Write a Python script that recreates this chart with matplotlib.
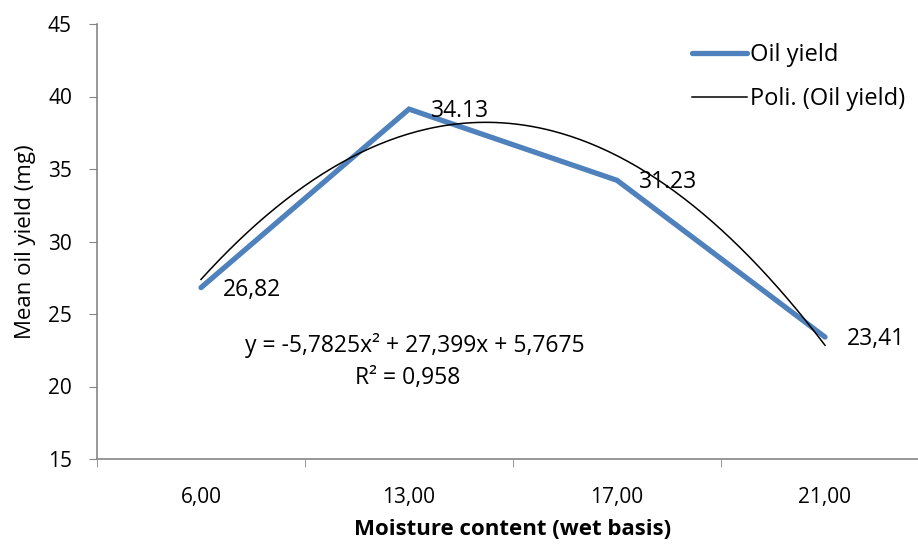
import numpy as np
import matplotlib
matplotlib.use('Agg')
import matplotlib.pyplot as plt

plt.rcParams['font.family'] = ['Open Sans', 'DejaVu Sans']

# Данные
categories = ['6,00', '13,00', '17,00', '21,00']
oil_yield = [26.82, 39.13, 34.22, 23.41]
point_labels = ['26,82', '34.13', '31.23', '23,41']
equation = 'y = -5,7825x² + 27,399x + 5,7675'
r_squared = 'R² = 0,958'

x = np.arange(1, len(categories) + 1)

# полиномиальная линия тренда 2-й степени, как в Excel
coef = np.polyfit(x, oil_yield, 2)
xs = np.linspace(x[0], x[-1], 200)
ys = np.polyval(coef, xs)

fig = plt.figure(figsize=(9.18, 5.48), dpi=100)
ax = fig.add_axes([97 / 918, 1 - 459 / 548, (929 - 97) / 918, (459 - 24) / 548])

blue = '#4F81BD'
ax.plot(x, oil_yield, color=blue, lw=3.8, solid_capstyle='round',
        solid_joinstyle='miter', label='Oil yield')
ax.plot(xs, ys, color='black', lw=1.1, label='Poli. (Oil yield)')

for xi, yi, lab in zip(x, oil_yield, point_labels):
    ax.annotate(lab, (xi, yi), xytext=(16, -1.5), textcoords='offset points',
                ha='left', va='center', fontsize=16.5)

ax.set_xlim(0.5, 4.5)
ax.set_ylim(15, 45)
ax.set_yticks(range(15, 46, 5))
ax.set_xticks(x)
ax.set_xticklabels(categories)
ax.set_xticks(np.arange(0.5, 5, 1), minor=True)
ax.tick_params(axis='x', which='major', length=0, pad=20, labelsize=15)
ax.tick_params(axis='x', which='minor', length=6, color='#868686')
ax.tick_params(axis='y', length=6, color='#868686', labelsize=15, pad=12)

for s in ['top', 'right']:
    ax.spines[s].set_visible(False)
for s in ['left', 'bottom']:
    ax.spines[s].set_color('#868686')
    ax.spines[s].set_linewidth(1.2)

ax.text(2.026, 22.8, equation, ha='center', va='center', fontsize=16.5)
ax.text(1.995, 20.6, r_squared, ha='center', va='center', fontsize=16.5)

ax.set_ylabel('Mean oil yield (mg)', fontsize=16)
ax.yaxis.set_label_coords(-0.073, 0.5)
ax.set_xlabel('Moisture content (wet basis)', fontsize=16, fontweight='bold')
ax.xaxis.set_label_coords(0.5, -0.163)
ax.xaxis.label.set_va('center')

leg = ax.legend(loc='upper left', bbox_to_anchor=(0.69, 1.005), frameon=False,
                fontsize=17, handlelength=2.3, handletextpad=0.15, labelspacing=0.85)

fig.savefig('out.png', dpi=100)
